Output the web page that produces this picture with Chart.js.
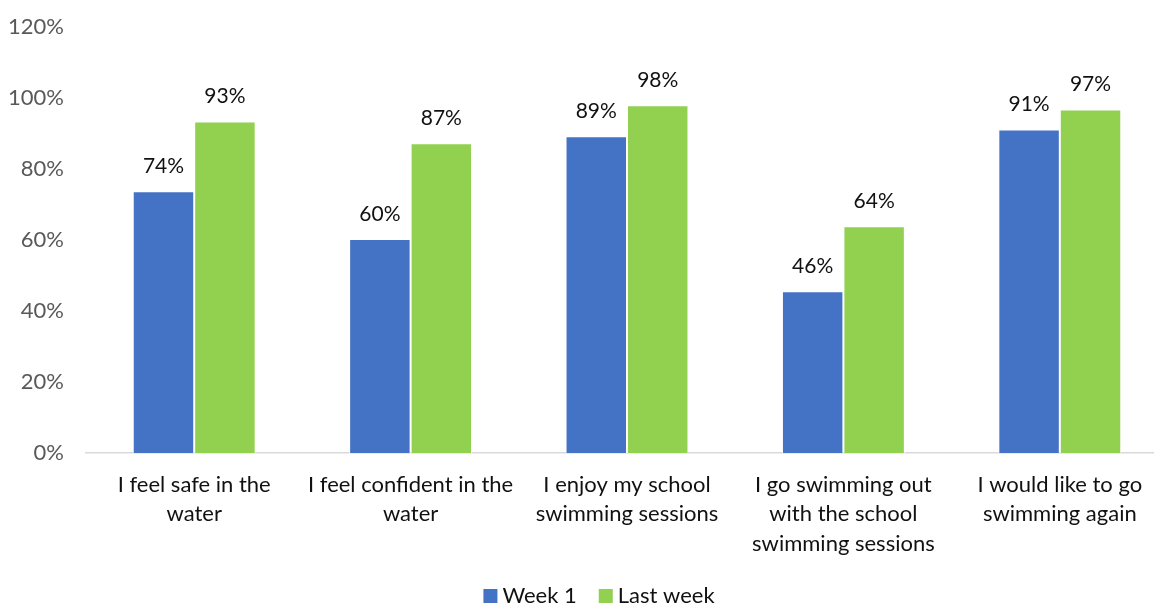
<!DOCTYPE html>
<html>
<head>
<meta charset="utf-8">
<script src="https://cdn.jsdelivr.net/npm/chart.js@4"></script>
<style>
  html, body { margin: 0; padding: 0; background: #fff; overflow: hidden; }
  #wrap { width: 1154px; height: 606px; overflow: hidden; position: relative; }
  #box { width: 1168px; height: 606px; position: absolute; left: 0; top: 0; }
</style>
</head>
<body>
<div id="wrap"><div id="box"><canvas id="c" width="1168" height="606"></canvas></div></div>
<script>
const categories = [
  ["I feel safe in the", "water"],
  ["I feel confident in the", "water"],
  ["I enjoy my school", "swimming sessions"],
  ["I go swimming out", "with the school", "swimming sessions"],
  ["I would like to go", "swimming again"]
];
const seriesNames = ["Week 1", "Last week"];
const week1 = [73.8, 60.3, 89.3, 45.6, 91.2];
const lastWeek = [93.4, 87.3, 98.0, 63.9, 96.8];
const yTicks = [0, 20, 40, 60, 80, 100, 120];

const FONT = "Lato, 'Open Sans', sans-serif";

const labelPlugin = {
  id: 'barLabels',
  afterDatasetsDraw(chart) {
    const ctx = chart.ctx;
    ctx.save();
    ctx.font = "21px " + FONT;
    ctx.fillStyle = "#111";
    ctx.textAlign = "center";
    ctx.textBaseline = "middle";
    chart.data.datasets.forEach((ds, di) => {
      const meta = chart.getDatasetMeta(di);
      meta.data.forEach((el, i) => {
        ctx.fillText(Math.round(ds.data[i]) + "%", el.x, el.y - 25);
      });
    });
    ctx.restore();
  }
};

const legendPlugin = {
  id: 'bottomLegend',
  afterDraw(chart) {
    const ctx = chart.ctx;
    ctx.save();
    ctx.font = "22px " + FONT;
    ctx.textBaseline = "middle";
    ctx.textAlign = "left";
    const box = 14, gapText = 5, gapItem = 22;
    const items = chart.data.datasets.map(ds => ({ text: ds.label, color: ds.backgroundColor, w: ctx.measureText(ds.label).width }));
    let total = 0;
    items.forEach((it, i) => { total += box + gapText + it.w + (i < items.length - 1 ? gapItem : 0); });
    let x = 599 - total / 2;
    const cy = 596;
    items.forEach(it => {
      ctx.fillStyle = it.color;
      ctx.fillRect(x, cy - box / 2, box, box);
      x += box + gapText;
      ctx.fillStyle = "#111";
      ctx.fillText(it.text, x, cy);
      x += it.w + gapItem;
    });
    ctx.restore();
  }
};

new Chart(document.getElementById('c'), {
  type: 'bar',
  data: {
    labels: categories,
    datasets: [
      { label: seriesNames[0], data: week1, backgroundColor: '#4472C4', borderColor: '#ffffff', borderWidth: 1, categoryPercentage: 0.568, barPercentage: 1 },
      { label: seriesNames[1], data: lastWeek, backgroundColor: '#92D050', borderColor: '#ffffff', borderWidth: 1, categoryPercentage: 0.568, barPercentage: 1 }
    ]
  },
  options: {
    responsive: false,
    animation: false,
    layout: { padding: { top: 10, left: 0, right: 0, bottom: 0 } },
    plugins: {
      tooltip: { enabled: false },
      legend: { display: false }
    },
    scales: {
      x: {
        grid: { display: false },
        border: { display: true, color: '#d9d9d9', width: 1.5 },
        ticks: {
          font: { family: FONT, size: 22, lineHeight: 1.34 },
          color: '#111',
          padding: 9,
          maxRotation: 0,
          autoSkip: false
        },
        afterFit(scale) { scale.height = 153; }
      },
      y: {
        min: 0, max: 120,
        afterBuildTicks(scale) { scale.ticks = yTicks.map(v => ({ value: v })); },
        grid: { display: false },
        border: { display: false },
        ticks: {
          font: { family: FONT, size: 22 },
          color: '#595959',
          padding: 14,
          callback: v => v + '%'
        },
        afterFit(scale) { scale.width = 86; }
      }
    }
  },
  plugins: [labelPlugin, legendPlugin]
});
</script>
</body>
</html>
